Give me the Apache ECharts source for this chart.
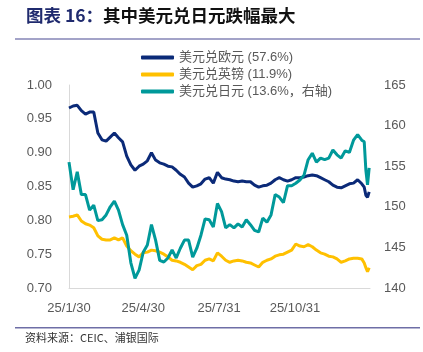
<!DOCTYPE html>
<html>
<head>
<meta charset="utf-8">
<script src="https://cdn.jsdelivr.net/npm/echarts@6.0.0/dist/echarts.min.js"></script>
<style>
  html, body { margin: 0; padding: 0; background: #fff; }
  #main { width: 423px; height: 352px; }
</style>
</head>
<body>
<div id="main"></div>
<script>
// 日期（约每5天取一点）
var dates = [
  '2025-01-30','2025-02-04','2025-02-09','2025-02-14','2025-02-19','2025-02-24','2025-03-01','2025-03-06','2025-03-11','2025-03-16',
  '2025-03-21','2025-03-26','2025-03-31','2025-04-05','2025-04-10','2025-04-15','2025-04-20','2025-04-25','2025-04-30','2025-05-05',
  '2025-05-10','2025-05-15','2025-05-20','2025-05-25','2025-05-30','2025-06-04','2025-06-09','2025-06-14','2025-06-19','2025-06-24',
  '2025-06-29','2025-07-04','2025-07-09','2025-07-14','2025-07-19','2025-07-24','2025-07-29','2025-08-03','2025-08-08','2025-08-13',
  '2025-08-18','2025-08-23','2025-08-28','2025-09-02','2025-09-07','2025-09-12','2025-09-17','2025-09-22','2025-09-27','2025-10-02',
  '2025-10-07','2025-10-12','2025-10-17','2025-10-22','2025-10-27','2025-11-01','2025-11-06','2025-11-11','2025-11-16','2025-11-21',
  '2025-11-26','2025-12-01','2025-12-06','2025-12-11','2025-12-16','2025-12-21','2025-12-26','2025-12-31','2026-01-05','2026-01-10',
  '2026-01-15','2026-01-20','2026-01-23','2026-01-25','2026-01-27','2026-01-29'
];
// 美元兑欧元（左轴）
var usdEur = [
  0.966,0.969,0.970,0.962,0.957,0.960,0.960,0.929,0.919,0.917,
  0.923,0.929,0.922,0.916,0.895,0.882,0.874,0.880,0.883,0.888,
  0.900,0.889,0.885,0.883,0.880,0.879,0.874,0.868,0.864,0.855,
  0.849,0.851,0.854,0.861,0.863,0.855,0.871,0.863,0.861,0.860,
  0.858,0.857,0.858,0.857,0.857,0.852,0.849,0.851,0.852,0.855,
  0.860,0.863,0.860,0.858,0.860,0.863,0.863,0.864,0.866,0.867,
  0.866,0.863,0.860,0.857,0.852,0.849,0.848,0.851,0.854,0.855,
  0.860,0.854,0.849,0.837,0.834,0.842
];
// 美元兑英镑（左轴）
var usdGbp = [
  0.805,0.806,0.808,0.799,0.795,0.793,0.789,0.777,0.772,0.771,
  0.771,0.774,0.771,0.774,0.762,0.755,0.750,0.746,0.752,0.753,
  0.756,0.755,0.753,0.750,0.746,0.741,0.740,0.738,0.735,0.731,
  0.727,0.733,0.735,0.741,0.743,0.740,0.752,0.747,0.741,0.738,
  0.740,0.741,0.740,0.738,0.737,0.734,0.731,0.738,0.741,0.743,
  0.747,0.749,0.750,0.753,0.756,0.765,0.762,0.761,0.764,0.761,
  0.756,0.752,0.750,0.747,0.746,0.743,0.738,0.740,0.743,0.744,
  0.744,0.743,0.737,0.730,0.724,0.730
];
// 美元兑日元（右轴）
var usdJpy = [
  155.5,152.1,154.3,151.5,151.5,149.6,150.2,148.3,148.4,149.0,
  150.0,150.7,149.6,147.8,146.5,143.1,141.2,142.2,144.4,145.3,
  147.8,145.9,143.4,143.2,143.7,144.7,143.7,144.9,145.9,145.9,
  143.8,144.9,146.5,148.5,148.4,147.5,150.4,149.4,147.4,147.8,
  147.4,147.9,147.5,148.4,147.8,147.1,146.9,148.6,148.1,149.0,
  151.5,151.2,150.5,152.6,152.6,152.9,153.3,153.9,155.8,156.6,
  155.5,156.0,155.8,156.0,157.0,156.4,156.0,156.9,156.7,158.2,
  158.9,158.2,158.0,154.5,152.7,154.8
];
var seriesNames = ['美元兑欧元 (57.6%)', '美元兑英镑 (11.9%)', '美元兑日元 (13.6%，右轴)'];
var xLabelDates = ['2025-01-30', '2025-04-30', '2025-07-31', '2025-10-31'];
var xMin = '2025-01-30', xMax = '2026-01-30';

function ts(s) {
  var p = s.split('-');
  return Date.UTC(+p[0], +p[1] - 1, +p[2]);
}
function zip(vals) {
  return dates.map(function (d, i) { return [ts(d), vals[i]]; });
}

var myChart = echarts.init(document.getElementById('main'));
var labelColor = '#595959';
var font = '"Liberation Sans", "Noto Sans CJK SC", sans-serif';

option = {
  animation: false,
  title: {
    left: 21,
    top: 2,
    text: '{a|图表 16：}{b|其中美元兑日元跌幅最大}',
    textStyle: {
      rich: {
        a: { fontSize: 17.5, fontWeight: 'bold', color: '#1F2A6E', fontFamily: '"Noto Sans CJK SC"' },
        b: { fontSize: 17.5, fontWeight: 'bold', color: '#111', fontFamily: '"Noto Sans CJK SC"' }
      }
    }
  },
  graphic: [
    { type: 'rect', shape: { x: 15, y: 38, width: 405, height: 2 }, style: { fill: '#A3A3C8' } },
    { type: 'rect', shape: { x: 15, y: 327, width: 405, height: 1.5 }, style: { fill: '#6E6EA6' } },
    { type: 'text', left: 25, top: 332, style: { text: '资料来源：CEIC、浦银国际', fontSize: 11, fill: '#333', fontFamily: '"Noto Sans CJK SC"' } }
  ],
  legend: {
    orient: 'vertical',
    left: 136,
    top: 46,
    itemGap: 4,
    itemWidth: 33,
    itemHeight: 4,
    icon: 'roundRect',
    textStyle: { fontSize: 13, color: labelColor, fontFamily: font },
    data: seriesNames
  },
  grid: { left: 69, right: 53, top: 85, bottom: 64 },
  xAxis: {
    type: 'value',
    min: ts(xMin),
    max: ts(xMax),
    axisLine: { lineStyle: { color: '#D9D9D9', width: 1 } },
    axisTick: { show: false },
    splitLine: { show: false },
    axisLabel: {
      customValues: xLabelDates.map(ts),
      color: labelColor,
      fontSize: 13,
      fontFamily: font,
      margin: 14,
      formatter: function (v) {
        var d = new Date(v);
        return (d.getUTCFullYear() % 100) + '/' + (d.getUTCMonth() + 1) + '/' + d.getUTCDate();
      }
    }
  },
  yAxis: [
    {
      type: 'value',
      min: 0.7, max: 1.0, interval: 0.05,
      axisLine: { show: true, lineStyle: { color: '#D9D9D9' } },
      axisTick: { show: false },
      splitLine: { show: false },
      axisLabel: { color: labelColor, fontSize: 13, fontFamily: font, margin: 17,
        formatter: function (v) { return v.toFixed(2); } }
    },
    {
      type: 'value',
      min: 140, max: 165, interval: 5,
      axisLine: { show: false },
      axisTick: { show: false },
      splitLine: { show: false },
      axisLabel: { color: labelColor, fontSize: 13, fontFamily: font, margin: 14 }
    }
  ],
  series: [
    { name: seriesNames[0], type: 'line', yAxisIndex: 0, showSymbol: false, data: zip(usdEur),
      lineStyle: { width: 3, color: '#0B2A78' }, itemStyle: { color: '#0B2A78' } },
    { name: seriesNames[1], type: 'line', yAxisIndex: 0, showSymbol: false, data: zip(usdGbp),
      lineStyle: { width: 3, color: '#FFC000' }, itemStyle: { color: '#FFC000' } },
    { name: seriesNames[2], type: 'line', yAxisIndex: 1, showSymbol: false, data: zip(usdJpy),
      lineStyle: { width: 3, color: '#00999A' }, itemStyle: { color: '#00999A' } }
  ]
};
myChart.setOption(option);
</script>
</body>
</html>
